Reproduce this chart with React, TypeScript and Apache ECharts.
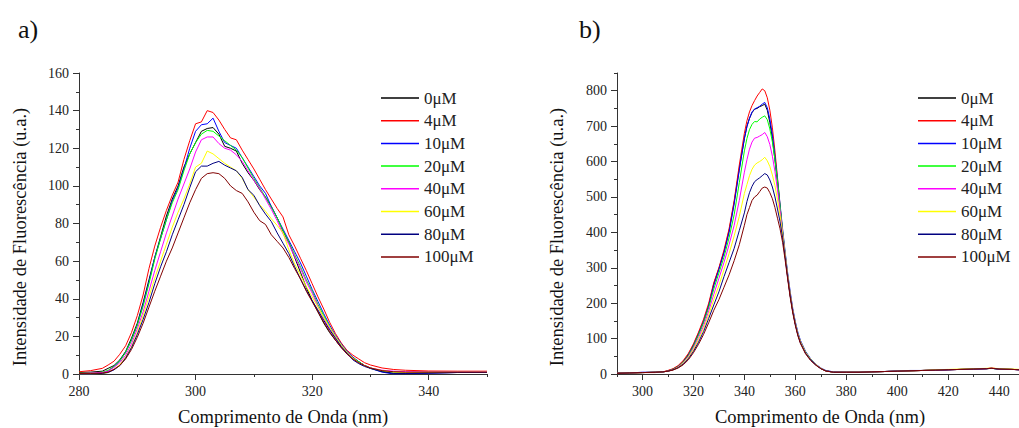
import React, { useEffect, useRef } from 'react';
import * as echarts from 'echarts';

const NAMES = ['0μM', '4μM', '10μM', '20μM', '40μM', '60μM', '80μM', '100μM'];
const COLORS = ['#000000', '#ff0000', '#0000ff', '#00ff00', '#ff00ff', '#ffff00', '#000080', '#800000'];

// ---- Panel a) ----
const X_A = [280, 282, 284, 285, 286, 287, 288, 289, 290, 291, 292, 293, 294, 295, 296, 297, 298, 299, 300, 301, 302, 303, 304, 305, 306, 307, 308, 309, 310, 311, 312, 313, 314, 315, 316, 317, 318, 319, 320, 321, 322, 323, 324, 325, 326, 327, 328, 329, 330, 332, 334, 336, 340, 345, 350];
const A_0 = [0.8, 1.0, 1.5, 3, 4.5, 7.5, 12, 19, 27, 38, 50, 62, 73, 84, 93, 100, 110, 117, 123, 129, 130.5, 131, 127.5, 121, 120, 118.5, 112, 107, 103, 98, 94, 89, 83, 76, 70, 62, 54, 46, 39, 33, 27, 22, 18, 14, 11, 8.5, 6.5, 4.5, 3.2, 1.5, 0.3, 0.3, 0.5, 0.8, 0.8];
const A_4 = [1.2, 1.8, 3.0, 4.8, 6.8, 10.5, 15, 22, 31, 42, 56, 68, 78, 87, 95, 102, 114, 124, 133, 134, 140, 139, 135, 130, 125.5, 124.5, 119, 114, 109, 103.5, 98, 93, 88, 83.5, 74, 68, 61.5, 55, 48, 41, 34.5, 27.5, 21.5, 16.5, 12.5, 10, 8, 6, 4.8, 3.2, 2.4, 2, 1.6, 1.5, 1.5];
const A_10 = [0, 0, 0.5, 1.5, 4, 7, 11.5, 18, 26, 37, 49, 62, 72, 82, 92, 99, 109, 120, 129, 132.5, 133, 136, 129, 123, 121.5, 120, 115, 110, 105, 100, 96, 89, 83, 77, 71, 65, 59, 52, 45, 38.5, 32, 26, 20.5, 16, 12, 9, 6.5, 4.5, 3, 1, 0, 0.2, 0.5, 0.8, 1];
const A_20 = [0.5, 0.5, 1, 2, 4, 7, 11.5, 18, 26, 36, 48, 61, 72, 82, 91, 98, 108, 117, 123, 127.5, 129.5, 129, 126.5, 124, 121.5, 119, 115, 109.5, 104, 99, 94, 88.5, 83, 76, 70, 63.5, 57, 50, 44, 37, 31, 25, 19.5, 15, 11.5, 8.5, 6.5, 4.5, 3, 1.5, 1, 0.8, 0.8, 1, 1];
const A_40 = [0.3, 0.5, 0.8, 1.5, 3.5, 6, 10, 16, 24, 33, 44, 55, 65, 75, 84, 93, 101, 109, 118, 124.5, 126, 126, 122.5, 120, 119, 116.5, 113, 108, 103, 98.5, 93, 87.5, 81.5, 74.5, 69, 62.5, 56, 49, 43, 36, 29.5, 24, 19, 14.5, 11, 8, 6, 4.5, 3.2, 2, 1.5, 1.2, 1.2, 1.2, 1.2];
const A_60 = [0, 0, 0.3, 0.8, 2.5, 5, 9, 14.5, 22, 31, 41, 51, 60, 69, 78, 86, 93, 101, 110, 112, 118.5, 117, 114.5, 112, 110, 108, 104, 98, 94, 90, 86.5, 82.5, 79, 75, 66, 58.5, 52.5, 46.5, 41, 35.5, 30, 25, 20, 15.5, 11.5, 8.5, 6, 4.5, 3.2, 1.8, 1, 0.8, 1, 1, 1];
const A_80 = [0, 0, 0.3, 0.8, 2.2, 4.5, 8.5, 14, 21, 29, 38, 48, 57, 65, 74, 82, 90, 99, 107.5, 110.5, 110.5, 112, 113, 111, 109.5, 108, 104.5, 98, 95, 89.5, 85, 81, 75, 69.5, 64, 57, 50.5, 44.5, 39, 34, 28.5, 23.5, 19, 14.5, 11, 7.5, 5.5, 4, 3, 1.2, 0.3, 0.3, 0.5, 0.8, 0.8];
const A_100 = [0.3, 0.3, 0.5, 1, 2.5, 4.5, 8, 13, 19.5, 27, 35.5, 44, 52, 60, 67, 75, 83, 91, 98, 104, 106.5, 107, 106.5, 104, 100, 97.5, 96, 91.5, 86, 81.5, 79.5, 74, 70.5, 67, 62, 56, 50.5, 44, 38.5, 33, 27.5, 22.5, 18, 14, 10.5, 8, 6, 4.5, 3.2, 1.8, 1.2, 1, 1, 1, 1];

// ---- Panel b) ----
const X_B = [290, 295, 300, 305, 308, 310, 312, 314, 316, 318, 320, 322, 324, 326, 328, 330, 332, 334, 336, 338, 340, 341, 342, 343, 344, 345, 346, 347, 348, 349, 350, 351, 352, 353, 354, 355, 356, 357, 358, 359, 360, 361, 362, 364, 366, 368, 370, 372, 375, 380, 385, 390, 395, 400, 405, 410, 415, 420, 425, 430, 435, 437, 440, 445, 448];
const B_0 = [3, 3, 4, 5, 6, 9, 14, 22, 36, 55, 82, 115, 150, 195, 255, 298, 345, 405, 485, 580, 665, 700, 722, 738, 748, 750, 755, 758, 762, 745, 710, 665, 605, 540, 470, 400, 335, 275, 222, 178, 142, 112, 90, 60, 40, 26, 16, 9, 5, 5, 5, 6, 7, 8, 9, 10, 11, 12, 13, 14, 15, 16, 14, 13, 12];
const B_4 = [2, 3, 4, 4, 6, 10, 15, 24, 38, 58, 85, 118, 155, 200, 258, 300, 350, 410, 490, 590, 680, 715, 740, 758, 772, 785, 795, 805, 800, 780, 745, 695, 630, 555, 475, 400, 335, 275, 222, 178, 142, 112, 90, 60, 40, 26, 16, 9, 5, 5, 5, 6, 7, 8, 9, 10, 11, 12, 13, 14, 15, 17, 14, 13, 12];
const B_10 = [2, 3, 5, 5, 6, 8, 13, 21, 34, 53, 80, 112, 148, 192, 250, 295, 342, 400, 480, 575, 665, 698, 722, 740, 748, 752, 756, 762, 767, 752, 720, 675, 615, 550, 480, 410, 345, 285, 232, 185, 148, 118, 95, 64, 43, 28, 17, 10, 6, 5, 5, 6, 7, 9, 10, 10, 11, 12, 13, 14, 15, 16, 14, 13, 12];
const B_20 = [2, 3, 4, 5, 6, 8, 13, 21, 34, 52, 78, 110, 145, 188, 240, 285, 330, 385, 450, 540, 630, 665, 690, 705, 713, 712, 720, 725, 729, 718, 692, 655, 605, 545, 475, 405, 340, 280, 226, 180, 144, 114, 92, 62, 42, 27, 16, 9, 5, 5, 5, 6, 7, 8, 9, 10, 11, 12, 13, 14, 15, 16, 14, 13, 12];
const B_40 = [2, 3, 4, 5, 6, 8, 12, 20, 32, 49, 73, 103, 136, 178, 225, 270, 315, 365, 420, 490, 570, 605, 635, 655, 666, 668, 672, 676, 682, 670, 648, 615, 572, 520, 462, 400, 338, 278, 225, 180, 143, 113, 91, 61, 41, 27, 16, 9, 5, 5, 5, 6, 7, 8, 9, 10, 11, 12, 13, 14, 15, 17, 14, 13, 12];
const B_60 = [2, 3, 4, 5, 6, 8, 12, 19, 30, 46, 69, 97, 128, 167, 210, 250, 295, 340, 390, 445, 510, 535, 560, 578, 590, 596, 600, 605, 612, 602, 586, 562, 532, 492, 448, 395, 336, 277, 224, 179, 143, 113, 91, 61, 41, 27, 16, 9, 5, 5, 5, 6, 7, 8, 9, 10, 12, 13, 14, 15, 16, 17, 15, 14, 13];
const B_80 = [2, 3, 4, 5, 6, 8, 12, 18, 28, 43, 64, 90, 120, 157, 195, 232, 275, 315, 355, 405, 455, 487, 512, 530, 543, 549, 554, 560, 566, 562, 548, 528, 500, 466, 430, 385, 330, 272, 220, 176, 140, 110, 88, 59, 40, 26, 15, 9, 5, 5, 5, 6, 7, 8, 9, 10, 11, 12, 13, 14, 15, 16, 14, 13, 12];
const B_100 = [2, 3, 4, 5, 6, 8, 11, 17, 26, 40, 60, 84, 112, 145, 180, 210, 245, 280, 320, 365, 420, 450, 470, 490, 500, 505, 515, 525, 528, 525, 512, 495, 470, 440, 410, 372, 322, 268, 216, 172, 137, 108, 86, 57, 38, 25, 15, 8, 5, 5, 5, 6, 7, 8, 9, 10, 11, 12, 13, 14, 15, 16, 14, 13, 12];

// ---- Axis ticks ----
const A_X_MAJOR = [280, 300, 320, 340];
const A_X_MINOR = [290, 310, 330, 350];
const A_Y_MAJOR = [0, 20, 40, 60, 80, 100, 120, 140, 160];
const B_X_MAJOR = [300, 320, 340, 360, 380, 400, 420, 440];
const B_X_MINOR = [290, 310, 330, 350, 370, 390, 410, 430];
const B_Y_MAJOR = [0, 100, 200, 300, 400, 500, 600, 700, 800];
const B_Y_MINOR = [50, 150, 250, 350, 450, 550, 650, 750, 850];

const SERIF = 'Liberation Serif';
const AXIS_COLOR = '#333333';
const TEXT_COLOR = '#222222';

function majorAxis(gridIndex: number, min: number, max: number, values: number[], isY: boolean) {
  return {
    type: 'value',
    gridIndex,
    min,
    max,
    position: isY ? 'left' : 'bottom',
    axisLine: { show: true, onZero: false, lineStyle: { color: AXIS_COLOR, width: 1 } },
    axisTick: { show: true, inside: false, length: 6, customValues: values, lineStyle: { color: AXIS_COLOR, width: 1 } },
    axisLabel: { show: true, customValues: values, margin: 10, fontSize: 14, fontFamily: SERIF, color: TEXT_COLOR },
    splitLine: { show: false },
  };
}

function minorAxis(gridIndex: number, min: number, max: number, values: number[], isY: boolean) {
  return {
    type: 'value',
    gridIndex,
    min,
    max,
    position: isY ? 'left' : 'bottom',
    axisLine: { show: false, onZero: false },
    axisTick: { show: true, inside: false, length: 3, customValues: values, lineStyle: { color: AXIS_COLOR, width: 1 } },
    axisLabel: { show: false },
    splitLine: { show: false },
  };
}

function makeSeries(xs: number[], ys: number[][], xIdx: number, yIdx: number) {
  return ys.map((vals, i) => ({
    type: 'line',
    name: NAMES[i],
    xAxisIndex: xIdx,
    yAxisIndex: yIdx,
    data: xs.map((x, j) => [x, vals[j]]),
    symbol: 'none',
    showSymbol: false,
    silent: true,
    lineStyle: { width: 1, color: COLORS[i] },
    itemStyle: { color: COLORS[i] },
  }));
}

function legendAt(left: number) {
  return {
    data: NAMES.map((n) => ({ name: n, icon: 'rect' })),
    orient: 'vertical',
    left,
    top: 89.5,
    padding: 0,
    itemWidth: 38,
    itemHeight: 1.5,
    itemGap: 5.7,
    selectedMode: false,
    textStyle: { fontSize: 17, fontFamily: SERIF, color: TEXT_COLOR },
  };
}

function textEl(text: string, x: number, y: number, size: number, rotate = 0, align = 'center') {
  return {
    type: 'text',
    x,
    y,
    rotation: rotate,
    silent: true,
    style: {
      text,
      fontSize: size,
      fontFamily: SERIF,
      fill: '#111111',
      align,
      verticalAlign: 'middle',
      textAlign: align,
      textVerticalAlign: 'middle',
    },
  };
}

export default function App() {
  const ref = useRef<HTMLDivElement>(null);
  useEffect(() => {
    if (!ref.current) return;
    const chart = echarts.init(ref.current, undefined, { renderer: 'svg' });
    const option = {
      animation: false,
      backgroundColor: '#ffffff',
      textStyle: { fontFamily: SERIF },
      grid: [
        { left: 79, top: 73, width: 408, height: 301, containLabel: false },
        { left: 617, top: 73, width: 402, height: 301, containLabel: false },
      ],
      xAxis: [
        majorAxis(0, 280, 350, A_X_MAJOR, false),
        minorAxis(0, 280, 350, A_X_MINOR, false),
        majorAxis(1, 290, 447.8, B_X_MAJOR, false),
        minorAxis(1, 290, 447.8, B_X_MINOR, false),
      ],
      yAxis: [
        {
          ...majorAxis(0, 0, 160, A_Y_MAJOR, true),
          interval: 20,
          minorTick: { show: true, splitNumber: 2, length: 3, lineStyle: { color: AXIS_COLOR, width: 1 } },
        },
        majorAxis(1, 0, 850, B_Y_MAJOR, true),
        minorAxis(1, 0, 850, B_Y_MINOR, true),
      ],
      legend: [legendAt(381), legendAt(918)],
      series: [
        ...makeSeries(X_A, [A_0, A_4, A_10, A_20, A_40, A_60, A_80, A_100], 0, 0),
        ...makeSeries(X_B, [B_0, B_4, B_10, B_20, B_40, B_60, B_80, B_100], 2, 1),
      ],
      graphic: [
        textEl('a)', 18, 29, 26, 0, 'left'),
        textEl('b)', 579, 29, 26, 0, 'left'),
        textEl('Intensidade de Fluorescência (u.a.)', 20, 237, 18.5, Math.PI / 2),
        textEl('Intensidade de Fluorescência (u.a.)', 557, 237, 18.5, Math.PI / 2),
        textEl('Comprimento de Onda (nm)', 283, 417, 18.5),
        textEl('Comprimento de Onda (nm)', 820, 417, 18.5),
      ],
    };
    chart.setOption(option as any);
    return () => chart.dispose();
  }, []);
  return (
    <div
      ref={ref}
      style={{ position: 'absolute', left: 0, top: 0, width: 1019, height: 428, background: '#ffffff' }}
    />
  );
}
